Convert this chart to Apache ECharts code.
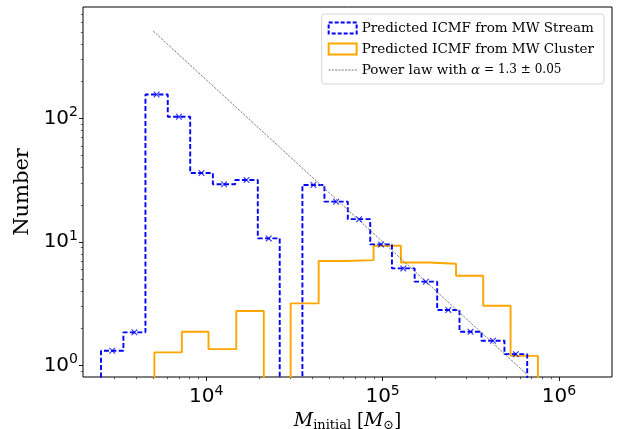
<!DOCTYPE html>
<html><head><meta charset="utf-8">
<script src="https://cdn.jsdelivr.net/npm/echarts@6/dist/echarts.min.js"></script>
<style>html,body{margin:0;padding:0;background:#fff}#c{width:621px;height:429px}</style>
</head><body><div id="c"></div>
<script>
// ---- data ----
const streamEdges = [2530,3390,4520,6050,8110,10900,14600,19600,26100,35100,46800,63500,85100,113000,152000,204000,273000,364000,491000,661000];
const streamCounts = [1.32,1.86,156,103,36.1,29.3,31.7,10.7,0,28.9,21.2,15.3,9.57,6.12,4.78,2.82,1.88,1.59,1.24];
const clusterEdges = [5080,7270,10300,14800,21200,30100,43400,62200,88900,127000,183000,261000,372000,532000,760000];
const clusterCounts = [1.28,1.88,1.36,2.77,0,3.19,7.02,7.14,9.34,6.83,6.67,5.33,3.05,1.20];
const powerLawM = [5000, 661000];
const powerLawN = [508, 0.845];
const xMajorTicks = [1e4, 1e5, 1e6];
const xMinorTicks = [3000,4000,5000,6000,7000,8000,9000,20000,30000,40000,50000,60000,70000,80000,90000,200000,300000,400000,500000,600000,700000,800000,900000];
const yMajorTicks = [1, 10, 100];
const yMinorTicks = [0.9,2,3,4,5,6,7,8,9,20,30,40,50,60,70,80,90,200,300,400,500,600,700];
const X_MIN = 2000, X_MAX = 2000000, Y_MIN = 0.81, Y_MAX = 795;
const names = ['Predicted ICMF from MW Stream', 'Predicted ICMF from MW Cluster', 'Power law with α=1.3±0.05'];

// ---- build step outlines from bins ----
function stepOutline(edges, counts, floor) {
  const pts = [[edges[0], floor]];
  for (let i = 0; i < counts.length; i++) {
    const v = counts[i] > 0 ? counts[i] : floor;
    pts.push([edges[i], v], [edges[i + 1], v]);
  }
  pts.push([edges[edges.length - 1], floor]);
  return pts;
}
function centers(edges, counts) {
  const out = [];
  for (let i = 0; i < counts.length; i++) if (counts[i] > 0) out.push([Math.sqrt(edges[i] * edges[i + 1]), counts[i]]);
  return out;
}
const FLOOR = Y_MIN / 4;
const xSym = 'path://M0,1.2L1.2,0L5,3.8L8.8,0L10,1.2L6.2,5L10,8.8L8.8,10L5,6.2L1.2,10L0,8.8L3.8,5Z';
let dashIcon = 'path://';
for (let x = 0; x < 28; x += 3.4) dashIcon += 'M' + x.toFixed(1) + ',0h2v0.9h-2z';

const expFmt = v => '{b|10}{e|' + Math.round(Math.log10(v)) + '}';
const tickRich = {
  b: {fontFamily: 'DejaVu Sans', fontSize: 20, lineHeight: 26, color: '#000'},
  e: {fontFamily: 'DejaVu Sans', fontSize: 14, lineHeight: 14, verticalAlign: 'top', color: '#000'}
};
const tickLine = {color: '#000', width: 0.9};

const chart = echarts.init(document.getElementById('c'), null, {renderer: 'canvas'});
chart.setOption({
  animation: false,
  backgroundColor: '#fff',
  grid: {left: 83, top: 7, right: 9, bottom: 52, outerBoundsMode: 'none', containLabel: false,
    show: true, borderColor: '#000', borderWidth: 1, backgroundColor: 'transparent'},
  legend: {
    orient: 'vertical', right: 17, top: 14,
    backgroundColor: '#fff', borderColor: '#d6d6d6', borderWidth: 1, borderRadius: 3,
    padding: [7, 10, 7, 6], itemGap: 7, itemWidth: 28, itemHeight: 11,
    textStyle: {fontFamily: 'DejaVu Serif', fontSize: 13.5, color: '#000',
      rich: {
        n: {fontFamily: 'DejaVu Serif', fontSize: 13.5, color: '#000'},
        a: {fontFamily: 'DejaVu Serif', fontStyle: 'italic', fontSize: 13.5, color: '#000'},
        s: {fontFamily: 'DejaVu Serif', fontSize: 12, color: '#000'}
      }},
    formatter: name => name === names[2] ? '{n|Power law with }{a|α}{s| = 1.3 ± 0.05}' : name,
    data: [
      {name: names[0], icon: 'rect', itemStyle: {color: 'rgba(0,0,0,0)', borderColor: '#0000ff', borderWidth: 2, borderType: [4, 2]}},
      {name: names[1], icon: 'rect', itemStyle: {color: 'rgba(0,0,0,0)', borderColor: '#ffa500', borderWidth: 2}},
      {name: names[2], icon: dashIcon, itemStyle: {color: '#707070', borderWidth: 0}}
    ]
  },
  xAxis: [{
    type: 'log', min: X_MIN, max: X_MAX, position: 'bottom',
    axisLine: {show: false}, splitLine: {show: false},
    axisTick: {show: true, length: 4, lineStyle: tickLine, customValues: xMajorTicks},
    axisLabel: {customValues: xMajorTicks, formatter: expFmt, rich: tickRich, margin: 7},
    name: '{it|M}{sub|initial}{n| [}{it|M}{sub|⊙}{n|]}', nameLocation: 'middle', nameGap: 25,
    nameTextStyle: {rich: {
      it: {fontFamily: 'DejaVu Serif', fontStyle: 'italic', fontSize: 19, color: '#000'},
      sub: {fontFamily: 'DejaVu Serif', fontSize: 13, color: '#000', padding: [9, 0, 0, 0]},
      n: {fontFamily: 'DejaVu Serif', fontSize: 18, color: '#000'}
    }}
  }, {
    type: 'log', min: X_MIN, max: X_MAX, position: 'bottom',
    axisLine: {show: false}, splitLine: {show: false}, axisLabel: {show: false},
    axisTick: {show: true, length: 2.2, lineStyle: {color: '#000', width: 0.6}, customValues: xMinorTicks}
  }],
  yAxis: [{
    type: 'log', min: Y_MIN, max: Y_MAX, position: 'left',
    axisLine: {show: false}, splitLine: {show: false},
    axisTick: {show: true, length: 4, lineStyle: tickLine, customValues: yMajorTicks},
    axisLabel: {customValues: yMajorTicks, formatter: expFmt, rich: tickRich, margin: 5},
    name: 'Number', nameLocation: 'middle', nameGap: 44, nameRotate: 90,
    nameTextStyle: {fontFamily: 'DejaVu Serif', fontSize: 21, color: '#000'}
  }, {
    type: 'log', min: Y_MIN, max: Y_MAX, position: 'left',
    axisLine: {show: false}, splitLine: {show: false}, axisLabel: {show: false},
    axisTick: {show: true, length: 2.2, lineStyle: {color: '#000', width: 0.6}, customValues: yMinorTicks}
  }],
  series: [
    {name: names[0], type: 'line', xAxisIndex: 0, yAxisIndex: 0, data: stepOutline(streamEdges, streamCounts, FLOOR),
      symbol: 'none', lineStyle: {color: '#0000ff', width: 1.9, type: [5, 2.4]}, itemStyle: {color: '#0000ff'}, z: 3},
    {name: names[1], type: 'line', xAxisIndex: 0, yAxisIndex: 0, data: stepOutline(clusterEdges, clusterCounts, FLOOR),
      symbol: 'none', lineStyle: {color: '#ffa500', width: 1.9}, itemStyle: {color: '#ffa500'}, z: 2},
    {name: names[2], type: 'line', xAxisIndex: 0, yAxisIndex: 0, data: powerLawM.map((m, i) => [m, powerLawN[i]]),
      symbol: 'none', lineStyle: {color: '#707070', width: 0.9, type: [2.4, 1.2]}, itemStyle: {color: '#707070'}, z: 4},
    {name: 'stream markers', type: 'scatter', xAxisIndex: 0, yAxisIndex: 0, data: centers(streamEdges, streamCounts),
      symbol: xSym, symbolSize: 6.5, itemStyle: {color: '#0000ff'}, z: 5}
  ]
});
</script></body></html>
